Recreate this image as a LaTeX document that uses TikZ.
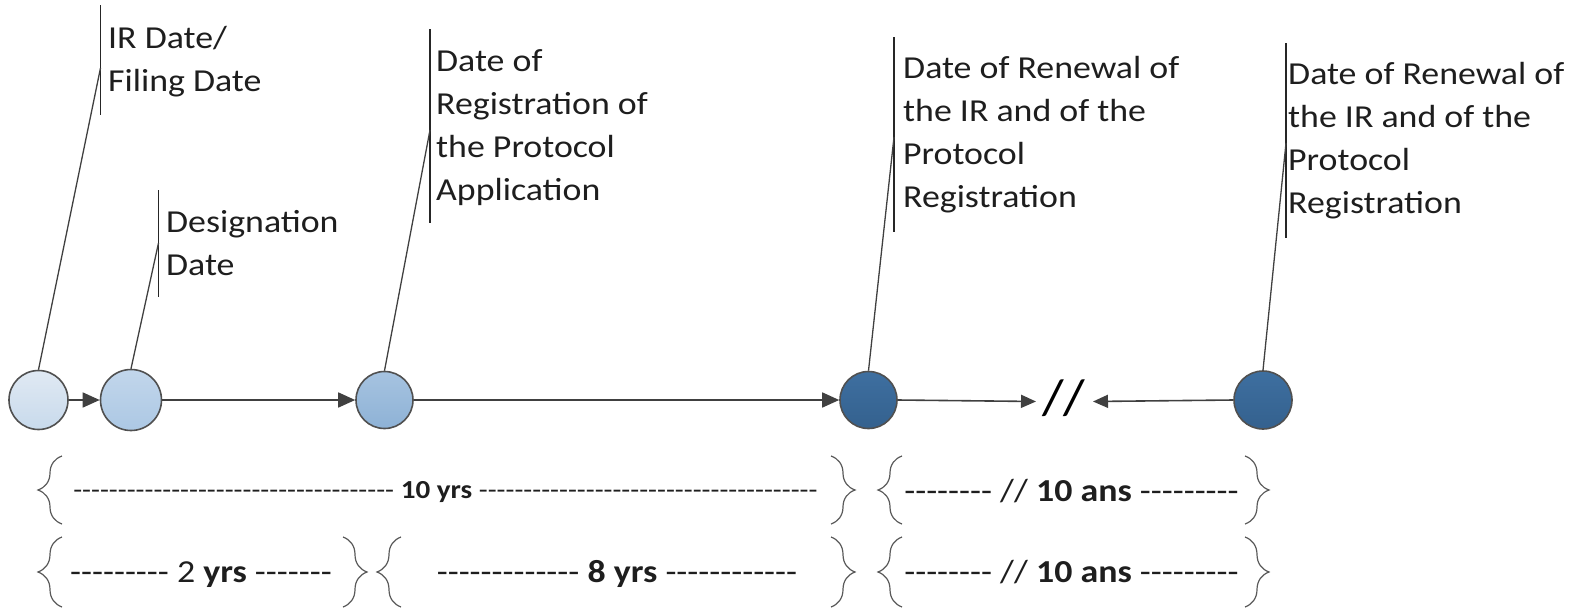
\documentclass[tikz,border=0pt]{standalone}
\usepackage{fontspec}
\setmainfont{Carlito}[FakeStretch=1.12]
\usetikzlibrary{arrows.meta,decorations.pathreplacing}
\definecolor{txtC}{HTML}{1E1E1E}
\definecolor{outC}{HTML}{505050}
\definecolor{arrC}{HTML}{404040}
\definecolor{brC}{HTML}{5A5A5A}
\newcommand\dashrun[1]{\foreach \k in {1,...,#1}{-\kern0pt}}
\tikzset{
  lbl/.style={anchor=base west, inner sep=0pt, text=txtC, font=\fontsize{32}{43}\selectfont},
  bar/.style={draw=black!85, line width=1.3pt},
  lead/.style={draw=black!75, line width=1.3pt},
  dot/.style={circle, inner sep=0pt, draw=outC, line width=1.6pt},
  arr/.style={draw=arrC, line width=1.6pt, -{Triangle[length=17pt,width=15pt]}},
  arrs/.style={draw=arrC, line width=1.6pt, -{Triangle[length=15pt,width=13pt]}},
  brc/.style={draw=brC, line width=1.2pt, decorate, decoration={brace, amplitude=24pt}},
  rowtxt/.style={anchor=base, inner sep=0pt, text=txtC, font=\fontsize{32}{38}\selectfont},
}
\begin{document}
\begin{tikzpicture}[x=1pt,y=-1pt]
\useasboundingbox (0,0) rectangle (1585,611);

% circles
\node[dot, minimum size=59pt, top color={rgb,255:red,224;green,233;blue,243}, bottom color={rgb,255:red,200;green,218;blue,236}] (c1) at (38.5,400) {};
\node[dot, minimum size=61pt, top color={rgb,255:red,194;green,214;blue,235}, bottom color={rgb,255:red,172;green,200;blue,228}] (c2) at (131,400) {};
\node[dot, minimum size=57pt, top color={rgb,255:red,166;green,195;blue,224}, bottom color={rgb,255:red,142;green,178;blue,214}] (c3) at (384.5,400) {};
\node[dot, minimum size=57pt, top color={rgb,255:red,62;green,111;blue,160}, bottom color={rgb,255:red,52;green,97;blue,142}] (c4) at (868.5,400) {};
\node[dot, minimum size=58pt, top color={rgb,255:red,62;green,111;blue,160}, bottom color={rgb,255:red,52;green,97;blue,142}] (c5) at (1263,400) {};

% break mark
\node[inner sep=0pt, text=black, font=\fontsize{50}{50}\selectfont] (brk) at (1064,398) {//};
\coordinate (sl1) at (1036,401.5);
\coordinate (sl2) at (1093,401.5);

% arrows
\draw[arr] (c1) -- (c2);
\draw[arr] (c2) -- (c3);
\draw[arr] (c3) -- (c4);
\draw[arrs] (c4.east) -- (sl1);
\draw[arrs] (c5.west) -- (sl2);

% callout bars
\coordinate (b1t) at (100.5,5);   \coordinate (b1b) at (100.5,115);  \coordinate (m1) at (100.5,68);
\coordinate (b2t) at (158.5,190); \coordinate (b2b) at (158.5,297);  \coordinate (m2) at (158.5,243);
\coordinate (b3t) at (430,29);    \coordinate (b3b) at (430,223);    \coordinate (m3) at (430,130);
\coordinate (b4t) at (894,37);    \coordinate (b4b) at (894,232);    \coordinate (m4) at (894,137);
\coordinate (b5t) at (1286,43);   \coordinate (b5b) at (1286,238);   \coordinate (m5) at (1286,143);
\foreach \i in {1,...,5}{\draw[bar] (b\i t) -- (b\i b);}
\draw[lead] (c1.north) -- (m1);
\draw[lead] (c2.north) -- (m2);
\draw[lead] (c3.north) -- (m3);
\draw[lead] (c4.north) -- (m4);
\draw[lead] (c5.north) -- (m5);

% labels
\node[lbl] (t1) at (108,48) {\begin{tabular}[t]{@{}l@{}}IR Date/\\Filing Date\end{tabular}};
\node[lbl] (t2) at (166,232) {\begin{tabular}[t]{@{}l@{}}Designation\\Date\end{tabular}};
\node[lbl] (t3) at (436,71) {\begin{tabular}[t]{@{}l@{}}Date of\\Registration of\\the Protocol\\Application\end{tabular}};
\node[lbl] (t4) at (903,78) {\begin{tabular}[t]{@{}l@{}}Date of Renewal of\\the IR and of the\\Protocol\\Registration\end{tabular}};
\node[lbl] (t5) at (1288,84) {\begin{tabular}[t]{@{}l@{}}Date of Renewal of\\the IR and of the\\Protocol\\Registration\end{tabular}};

% braces row 1
\draw[brc] (62,524) -- (62,456);
\draw[brc] (831,456) -- (831,524);
\draw[brc] (902,524) -- (902,456);
\draw[brc] (1245,456) -- (1245,524);
% braces row 2
\draw[brc] (62,607) -- (62,537);
\draw[brc] (343,537) -- (343,607);
\draw[brc] (401,607) -- (401,537);
\draw[brc] (831,537) -- (831,607);
\draw[brc] (902,607) -- (902,537);
\draw[brc] (1245,537) -- (1245,607);

% row texts
\node[rowtxt, font=\fontsize{26}{30}\selectfont] (r1a) at (445.5,498) {\dashrun{36} \textbf{10 yrs} \dashrun{38}};
\node[rowtxt] (r1b) at (1071.5,501) {\dashrun{8} // \textbf{10 ans} \dashrun{9}};
\node[rowtxt] (r2a) at (201,582) {\dashrun{9} 2 \textbf{yrs} \dashrun{7}};
\node[rowtxt] (r2b) at (617,582) {\dashrun{13} \textbf{8 yrs} \dashrun{12}};
\node[rowtxt] (r2c) at (1071.5,582) {\dashrun{8} // \textbf{10 ans} \dashrun{9}};
\end{tikzpicture}
\end{document}
